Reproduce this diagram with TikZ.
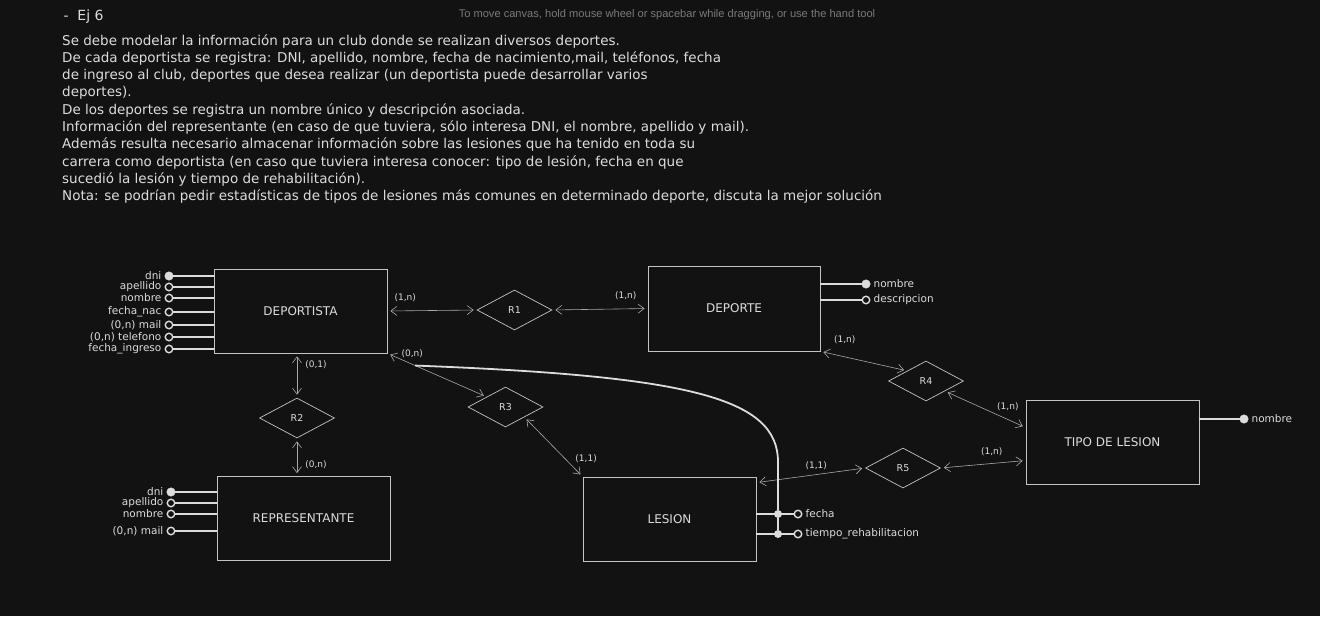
\documentclass[tikz,border=0pt]{standalone}
\usepackage{fontspec}
\setmainfont{DejaVu Sans}
\newfontfamily\hintfont{Liberation Sans}
\usetikzlibrary{positioning, shapes.geometric, arrows.meta}
\definecolor{bg}{HTML}{121212}
\definecolor{ink}{HTML}{DCDCDC}
\definecolor{boxline}{HTML}{C4C4C4}
\definecolor{relline}{HTML}{A8A8A8}
\definecolor{hint}{HTML}{7A7A7A}
\tikzset{
  entity/.style={draw=boxline, line width=0.8pt, minimum width=173pt, minimum height=84pt, text=ink, font=\fontsize{12}{14}\selectfont},
  rel/.style={diamond, draw=boxline, line width=0.7pt, minimum width=75pt, minimum height=40pt, inner sep=0pt, text=ink, font=\fontsize{9.5}{11}\selectfont},
  link/.style={draw=relline, line width=0.6pt, {Straight Barb[length=6pt,width=9pt]}-{Straight Barb[length=6pt,width=9pt]}, shorten <=3pt, shorten >=3pt},
  card/.style={text=ink, inner sep=0pt, font=\fontsize{9}{10}\selectfont},
  keyattr/.style={circle, fill=ink, draw=ink, minimum size=8.5pt, inner sep=0pt},
  attr/.style={circle, draw=ink, line width=1.4pt, fill=bg, minimum size=7.5pt, inner sep=0pt},
  junction/.style={circle, fill=ink, minimum size=8pt, inner sep=0pt},
  attrline/.style={draw=ink, line width=1.6pt},
  attrtext/.style={text=ink, inner sep=0pt, label distance=3pt, font=\fontsize{10.5}{11}\selectfont}
}
\begin{document}
\begin{tikzpicture}[x=1pt, y=-1pt]
  % Canvas
  \fill[bg] (0,0) rectangle (1320,616);
  \useasboundingbox (0,0) rectangle (1320,616);

  % Statement
  \node[anchor=west, text=ink, font=\fontsize{14}{16}\selectfont] (titulo) at (60,17) {-\ \ Ej\ 6};
  \node[text=hint, font=\hintfont\fontsize{11.1}{12}\selectfont] (ayuda) at (667,15) {To move canvas, hold mouse wheel or spacebar while dragging, or use the hand tool};
  \node[anchor=north west, align=left, text=ink, inner sep=0pt, font=\fontsize{13.5}{17.3}\selectfont] (enunciado) at (62,34) {%
    Se debe modelar la información para un club donde se realizan diversos deportes.\\
    De cada deportista se registra: DNI, apellido, nombre, fecha de nacimiento,mail, teléfonos, fecha\\
    de ingreso al club, deportes que desea realizar (un deportista puede desarrollar varios\\
    deportes).\\
    De los deportes se registra un nombre único y descripción asociada.\\
    Información del representante (en caso de que tuviera, sólo interesa DNI, el nombre, apellido y mail).\\
    Además resulta necesario almacenar información sobre las lesiones que ha tenido en toda su\\
    carrera como deportista (en caso que tuviera interesa conocer: tipo de lesión, fecha en que\\
    sucedió la lesión y tiempo de rehabilitación).\\
    Nota: se podrían pedir estadísticas de tipos de lesiones más comunes en determinado deporte, discuta la mejor solución};

  % Entities
  \node[entity] (dep) at (300.5,311) {DEPORTISTA};
  \node[entity, minimum width=172pt, minimum height=85pt] (dpt) at (734,308.5) {DEPORTE};
  \node[entity] (tip) at (1112.5,442.5) {TIPO DE LESION};
  \node[entity] (rep) at (303.5,518.5) {REPRESENTANTE};
  \node[entity] (les) at (669.5,519) {LESION};

  % Relationships
  \node[rel] (r1) at (514.5,310) {R1};
  \node[rel] (r2) at (297,418) {R2};
  \node[rel] (r3) at (505.5,407) {R3};
  \node[rel] (r4) at (926,381) {R4};
  \node[rel] (r5) at (903,468) {R5};

  % Connections
  \draw[link] (dep.east) -- (r1.west) node[card, pos=0.2, above=9pt] {(1,n)};
  \draw[link] (r1.east) -- (dpt.west) node[card, pos=0.77, above=9pt] {(1,n)};
  \draw[link] (dpt.south east) -- (r4.north west) node[card, pos=0.28, above=13pt] {(1,n)};
  \draw[link] (r4.south east) -- ([yshift=15pt]tip.west) node[card, pos=0.78, above=9pt] {(1,n)};
  \draw[link] (r5.east) -- ([yshift=-18pt]tip.west) node[card, pos=0.6, above=8pt] {(1,n)};
  \draw[link] ([yshift=-6pt]les.north east) -- (r5.west) node[card, pos=0.55, above=5pt] {(1,1)};
  \draw[link] (r2.north |- dep.south) -- (r2.north) node[card, pos=0.25, right=8pt] {(0,1)};
  \draw[link] (r2.south) -- (r2.south |- rep.north) node[card, pos=0.7, right=8pt] {(0,n)};
  \draw[link] (dep.south east) -- (r3.north west) node[card, pos=0.25, above=6pt] {(0,n)};
  \draw[link] (r3.south east) -- (les.north west) node[card, pos=0.7, right=10pt] {(1,1)};

  % Attributes of DEPORTISTA
  \node[keyattr, label={[attrtext]left:dni}] (dep-dni) at (169,276) {};
  \node[attr, label={[attrtext]left:apellido}] (dep-ape) at (169,287) {};
  \node[attr, label={[attrtext]left:nombre}] (dep-nom) at (169,298) {};
  \node[attr, label={[attrtext]left:fecha\_nac}] (dep-fna) at (169,312) {};
  \node[attr, label={[attrtext]left:(0,n) mail}] (dep-mail) at (169,325) {};
  \node[attr, label={[attrtext]left:(0,n) telefono}] (dep-tel) at (169,337) {};
  \node[attr, label={[attrtext]left:fecha\_ingreso}] (dep-fin) at (169,349) {};
  \foreach \a in {dni, ape, nom, fna, mail, tel, fin}
    \draw[attrline] (dep-\a.east) -- (dep-\a -| dep.west);

  % Attributes of REPRESENTANTE
  \node[keyattr, label={[attrtext]left:dni}] (rep-dni) at (171,492) {};
  \node[attr, label={[attrtext]left:apellido}] (rep-ape) at (171,503) {};
  \node[attr, label={[attrtext]left:nombre}] (rep-nom) at (171,514) {};
  \node[attr, label={[attrtext]left:(0,n) mail}] (rep-mail) at (171,531) {};
  \foreach \a in {dni, ape, nom, mail}
    \draw[attrline] (rep-\a.east) -- (rep-\a -| rep.west);

  % Attributes of DEPORTE and TIPO DE LESION
  \node[keyattr, label={[attrtext]right:nombre}] (dpt-nom) at (866,284) {};
  \node[attr, label={[attrtext]right:descripcion}] (dpt-des) at (866,300) {};
  \draw[attrline] (dpt-nom -| dpt.east) -- (dpt-nom.west);
  \draw[attrline] (dpt-des -| dpt.east) -- (dpt-des.west);
  \node[keyattr, label={[attrtext]right:nombre}] (tip-nom) at (1244,419) {};
  \draw[attrline] (tip-nom -| tip.east) -- (tip-nom.west);

  % Attributes of R3
  \node[attr, label={[attrtext]right:fecha}] (les-fec) at (798,514) {};
  \node[attr, label={[attrtext]right:tiempo\_rehabilitacion}] (les-tie) at (798,534) {};
  \draw[attrline] (les-fec -| les.east) -- (les-fec.west);
  \draw[attrline] (les-tie -| les.east) -- (les-tie.west);
  \node[junction] (fec-j) at (778,514) {};
  \node[junction] (tie-j) at (778,534) {};
  \path (dep.south east) -- (r3.north west) coordinate[pos=0.28] (r3-att);
  \coordinate (codo) at (778,462);
  \draw[attrline, line width=1.8pt] (r3-att) .. controls (690,376) and (778,398) .. (codo) -- (fec-j) -- (tie-j);
\end{tikzpicture}
\end{document}
